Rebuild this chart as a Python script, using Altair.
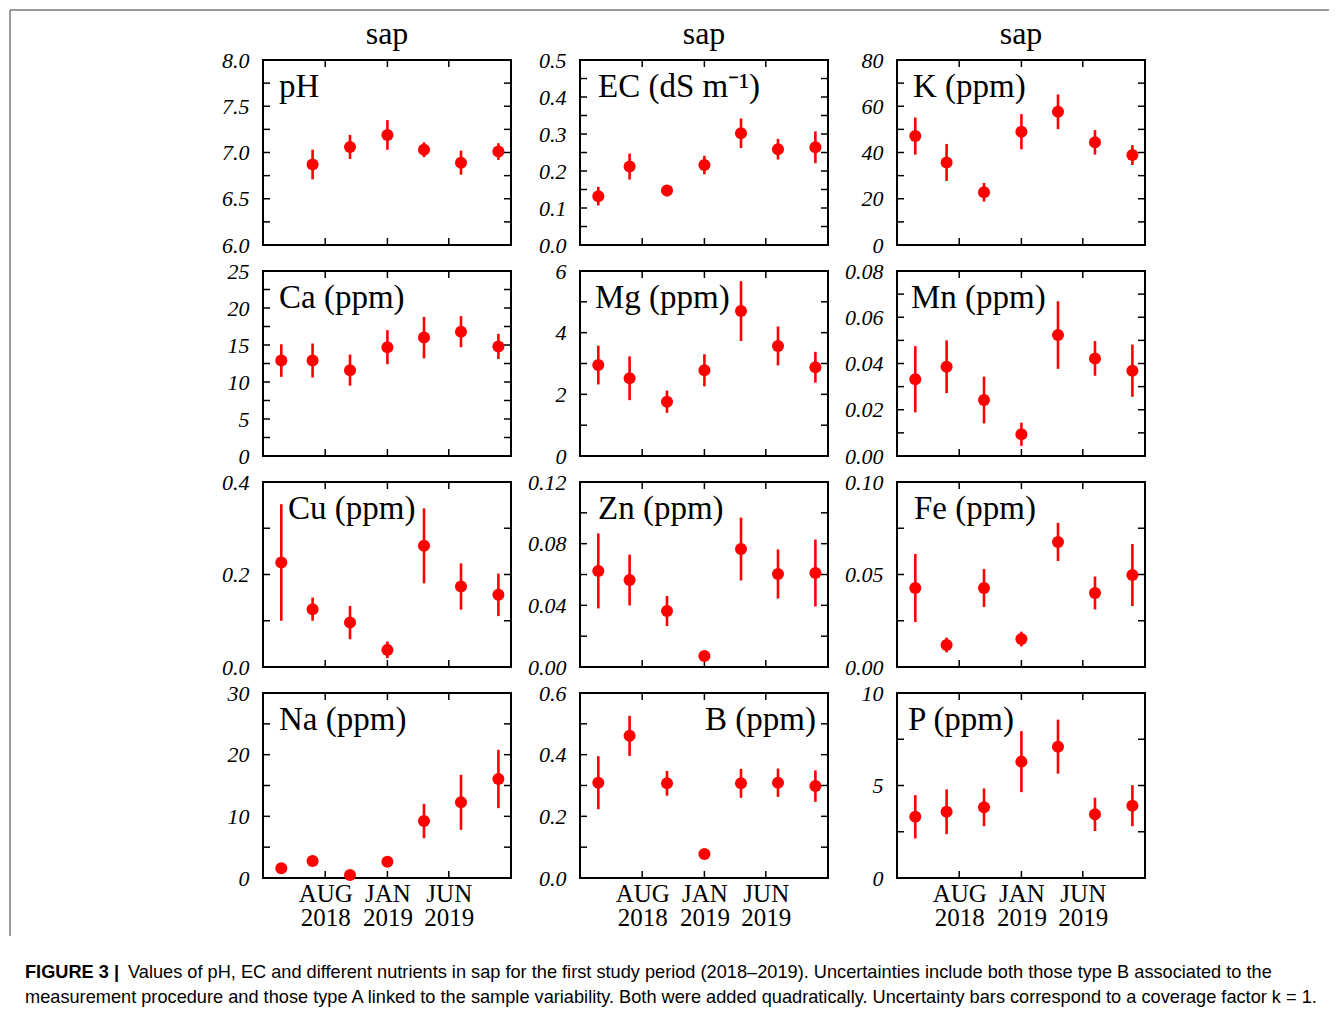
import altair as alt
import pandas as pd

SERIF = "Liberation Serif"
SANS = "Liberation Sans"

# sampling dates (7 campaigns)
dates = ['2018-04-15', '2018-07-01', '2018-10-01', '2019-01-01',
         '2019-04-01', '2019-07-01', '2019-10-01']

# x axis ticks / labels
x_domain = [(2018, 3, 1), (2019, 11, 1)]
x_tick_dates = ['2018-08-01', '2019-01-01', '2019-06-01']
x_tick_month = ['AUG', 'JAN', 'JUN']
x_tick_year = ['2018', '2019', '2019']

# values and uncertainties
ph_val = [None, 6.87, 7.06, 7.19, 7.03, 6.89, 7.01]
ph_err = [None, 0.16, 0.13, 0.16, 0.08, 0.13, 0.09]
ec_val = [0.132, 0.212, 0.147, 0.216, 0.302, 0.259, 0.264]
ec_err = [0.025, 0.035, 0.005, 0.025, 0.040, 0.028, 0.043]
k_val = [47.1, 35.7, 22.8, 49.0, 57.6, 44.4, 38.9]
k_err = [8.0, 8.0, 4.0, 7.6, 7.5, 5.3, 4.3]
ca_val = [12.9, 12.9, 11.6, 14.7, 16.0, 16.8, 14.8]
ca_err = [2.2, 2.3, 2.1, 2.3, 2.8, 2.1, 1.7]
mg_val = [2.95, 2.52, 1.76, 2.78, 4.70, 3.57, 2.88]
mg_err = [0.63, 0.71, 0.36, 0.52, 0.97, 0.63, 0.50]
mn_val = [0.0332, 0.0386, 0.0242, 0.0094, 0.0523, 0.0422, 0.0369]
mn_err = [0.0143, 0.0114, 0.0101, 0.0050, 0.0146, 0.0075, 0.0113]
cu_val = [0.226, 0.125, 0.096, 0.037, 0.262, 0.174, 0.156]
cu_err = [0.126, 0.025, 0.036, 0.018, 0.081, 0.050, 0.046]
zn_val = [0.0623, 0.0564, 0.0363, 0.0071, 0.0765, 0.0603, 0.0610]
zn_err = [0.0243, 0.0165, 0.0097, 0.0030, 0.0204, 0.0159, 0.0217]
fe_val = [0.0427, 0.0119, 0.0427, 0.0151, 0.0676, 0.0400, 0.0497]
fe_err = [0.0184, 0.0040, 0.0103, 0.0040, 0.0103, 0.0089, 0.0168]
na_val = [1.57, 2.76, 0.49, 2.65, 9.24, 12.27, 16.05]
na_err = [0.3, 0.3, 0.3, 0.3, 2.78, 4.46, 4.73]
b_val = [0.309, 0.461, 0.307, 0.078, 0.307, 0.309, 0.298]
b_err = [0.086, 0.065, 0.040, 0.005, 0.047, 0.046, 0.051]
p_val = [3.31, 3.58, 3.82, 6.29, 7.10, 3.44, 3.91]
p_err = [1.17, 1.21, 1.02, 1.65, 1.46, 0.90, 1.11]

# y axes: labelled values and (minor) tick marks
ph_labels = [6.0, 6.5, 7.0, 7.5, 8.0]
ph_ticks = [6.25, 6.5, 6.75, 7.0, 7.25, 7.5, 7.75]
ec_labels = [0.0, 0.1, 0.2, 0.3, 0.4, 0.5]
ec_ticks = [0.05, 0.1, 0.15, 0.2, 0.25, 0.3, 0.35, 0.4, 0.45]
k_labels = [0, 20, 40, 60, 80]
k_ticks = [10, 20, 30, 40, 50, 60, 70]
ca_labels = [0, 5, 10, 15, 20, 25]
ca_ticks = [2.5, 5, 7.5, 10, 12.5, 15, 17.5, 20, 22.5]
mg_labels = [0, 2, 4, 6]
mg_ticks = [1, 2, 3, 4, 5]
mn_labels = [0.0, 0.02, 0.04, 0.06, 0.08]
mn_ticks = [0.01, 0.02, 0.03, 0.04, 0.05, 0.06, 0.07]
cu_labels = [0.0, 0.2, 0.4]
cu_ticks = [0.1, 0.2, 0.3]
zn_labels = [0.0, 0.04, 0.08, 0.12]
zn_ticks = [0.02, 0.04, 0.06, 0.08, 0.10]
fe_labels = [0.0, 0.05, 0.10]
fe_ticks = [0.025, 0.05, 0.075]
na_labels = [0, 10, 20, 30]
na_ticks = [5, 10, 15, 20, 25]
b_labels = [0.0, 0.2, 0.4, 0.6]
b_ticks = [0.1, 0.2, 0.3, 0.4, 0.5]
p_labels = [0, 5, 10]
p_ticks = [2.5, 5, 7.5]

caption_bold = "FIGURE 3 |"
caption_line1 = ("Values of pH, EC and different nutrients in sap for the first study period "
                 "(2018\u20132019). Uncertainties include both those type B associated to the")
caption_line2 = ("measurement procedure and those type A linked to the sample variability. "
                 "Both were added quadratically. Uncertainty bars correspond to a coverage factor k = 1.")

W, H = 248, 185
TICK = 7
RED = "#ff0000"
CAP_SIZE = 18.2


def dt(y, m, d):
    return alt.DateTime(year=y, month=m, date=d, utc=True)


def dt_s(s):
    y, m, d = (int(p) for p in s.split('-'))
    return dt(y, m, d)


label_expr = ""
for d, mo, yr in zip(x_tick_dates, x_tick_month, x_tick_year):
    label_expr += f"utcFormat(datum.value, '%Y-%m-%d') == '{d}' ? ['{mo}', '{yr}'] : "
label_expr += "''"

x_scale = alt.Scale(type='utc', domain=[dt(*x_domain[0]), dt(*x_domain[1])])


def panel(label, val, err, domain, label_vals, tick_vals, fmt,
          title=None, bottom=False, label_x=16, label_right=False, extra=None):
    rows = [(d, v, e) for d, v, e in zip(dates, val, err) if v is not None]
    df = pd.DataFrame(rows, columns=['date', 'value', 'err'])
    df['lo'] = df['value'] - df['err']
    df['hi'] = df['value'] + df['err']

    if bottom:
        x_axis = alt.Axis(values=[dt_s(d) for d in x_tick_dates], labelExpr=label_expr,
                          ticks=False, domain=False, grid=False, title=None,
                          labelFont=SERIF, labelFontSize=25, labelLineHeight=24,
                          labelPadding=3, labelFlush=False, labelOverlap=False,
                          labelColor='black', labelBaseline='top')
    else:
        x_axis = None
    y_axis = alt.Axis(values=label_vals, format=fmt, ticks=False, domain=False,
                      grid=False, title=None, labelFont=SERIF, labelFontStyle='italic',
                      labelFontSize=22, labelPadding=14, labelColor='black',
                      labelOverlap=False, labelFlush=False)
    y_scale = alt.Scale(domain=domain, nice=False, zero=False)

    X = lambda f: alt.X(f, scale=x_scale, axis=x_axis)
    Y = lambda f: alt.Y(f, scale=y_scale, axis=y_axis)

    base = alt.Chart(df)
    bars = base.mark_rule(color=RED, strokeWidth=2.6).encode(
        x=X('date:T'), y=Y('lo:Q'), y2='hi:Q')
    pts = base.mark_circle(size=145, color=RED, opacity=1).encode(
        x=X('date:T'), y=Y('value:Q'))

    ydf = alt.Chart(pd.DataFrame({'v': tick_vals}))
    yl = ydf.mark_rule(color='black', strokeWidth=1.5).encode(
        y=Y('v:Q'), x=alt.value(0), x2=alt.value(TICK))
    yr = ydf.mark_rule(color='black', strokeWidth=1.5).encode(
        y=Y('v:Q'), x=alt.value(W - TICK), x2=alt.value(W))
    xdf = alt.Chart(pd.DataFrame({'v': x_tick_dates}))
    xb = xdf.mark_rule(color='black', strokeWidth=1.5).encode(
        x=X('v:T'), y=alt.value(H - TICK), y2=alt.value(H))
    xt = xdf.mark_rule(color='black', strokeWidth=1.5).encode(
        x=X('v:T'), y=alt.value(0), y2=alt.value(TICK))

    lab = alt.Chart(pd.DataFrame({'t': [label]})).mark_text(
        font=SERIF, fontSize=33, color='black',
        align='right' if label_right else 'left', baseline='alphabetic').encode(
        text='t:N',
        x=alt.value(W - label_x if label_right else label_x),
        y=alt.value(37))

    layers = [xb, xt, yl, yr, bars, pts, lab]
    if extra:
        layers += extra
    ch = alt.layer(*layers).properties(width=W, height=H)
    if title:
        ch = ch.properties(title=alt.TitleParams(
            title, font=SERIF, fontSize=32, fontWeight='normal', color='black',
            anchor='middle', offset=-2))
    return ch


# decorative figure frame and the caption, positioned relative to the Na panel (bottom-left)
one = pd.DataFrame({'a': [0]})
frame_lines = [
    alt.Chart(one).mark_rule(color='#7a7a7a', strokeWidth=1.5).encode(
        x=alt.value(-253), x2=alt.value(1066), y=alt.value(-683)),
    alt.Chart(one).mark_rule(color='#7a7a7a', strokeWidth=1.5).encode(
        x=alt.value(-253), y=alt.value(-683), y2=alt.value(243)),
]

cap = pd.DataFrame({'b': [caption_bold], 'l1': [caption_line1], 'l2': [caption_line2]})
caption = [
    alt.Chart(cap).mark_text(font=SANS, fontSize=CAP_SIZE, fontWeight='bold', color='black',
                             align='left', baseline='alphabetic').encode(
        text='b:N', x=alt.value(-238), y=alt.value(285)),
    alt.Chart(cap).mark_text(font=SANS, fontSize=CAP_SIZE, color='black',
                             align='left', baseline='alphabetic').encode(
        text='l1:N', x=alt.value(-135), y=alt.value(285)),
    alt.Chart(cap).mark_text(font=SANS, fontSize=CAP_SIZE, color='black',
                             align='left', baseline='alphabetic').encode(
        text='l2:N', x=alt.value(-238), y=alt.value(310)),
]

panels = [
    panel('pH', ph_val, ph_err, [6, 8], ph_labels, ph_ticks, '.1f', title='sap'),
    panel('EC (dS m\u207b\u00b9)', ec_val, ec_err, [0, 0.5], ec_labels, ec_ticks, '.1f',
          title='sap', label_x=18),
    panel('K (ppm)', k_val, k_err, [0, 80], k_labels, k_ticks, 'd', title='sap'),
    panel('Ca (ppm)', ca_val, ca_err, [0, 25], ca_labels, ca_ticks, 'd'),
    panel('Mg (ppm)', mg_val, mg_err, [0, 6], mg_labels, mg_ticks, 'd', label_x=15),
    panel('Mn (ppm)', mn_val, mn_err, [0, 0.08], mn_labels, mn_ticks, '.2f', label_x=14),
    panel('Cu (ppm)', cu_val, cu_err, [0, 0.4], cu_labels, cu_ticks, '.1f', label_x=25),
    panel('Zn (ppm)', zn_val, zn_err, [0, 0.12], zn_labels, zn_ticks, '.2f', label_x=18),
    panel('Fe (ppm)', fe_val, fe_err, [0, 0.10], fe_labels, fe_ticks, '.2f', label_x=17),
    panel('Na (ppm)', na_val, na_err, [0, 30], na_labels, na_ticks, 'd', bottom=True,
          extra=frame_lines + caption),
    panel('B (ppm)', b_val, b_err, [0, 0.6], b_labels, b_ticks, '.1f', bottom=True,
          label_x=12, label_right=True),
    panel('P (ppm)', p_val, p_err, [0, 10], p_labels, p_ticks, 'd', bottom=True,
          label_x=11),
]

chart = alt.concat(*panels, columns=3, spacing={'row': 26, 'column': 69},
                   bounds='flush').properties(
    padding={'left': 0, 'top': 0, 'right': 0, 'bottom': 0},
    background='white',
).configure_view(stroke='black', strokeWidth=2)

chart.save("out.html", embed_options={"renderer": "svg", "actions": False})
